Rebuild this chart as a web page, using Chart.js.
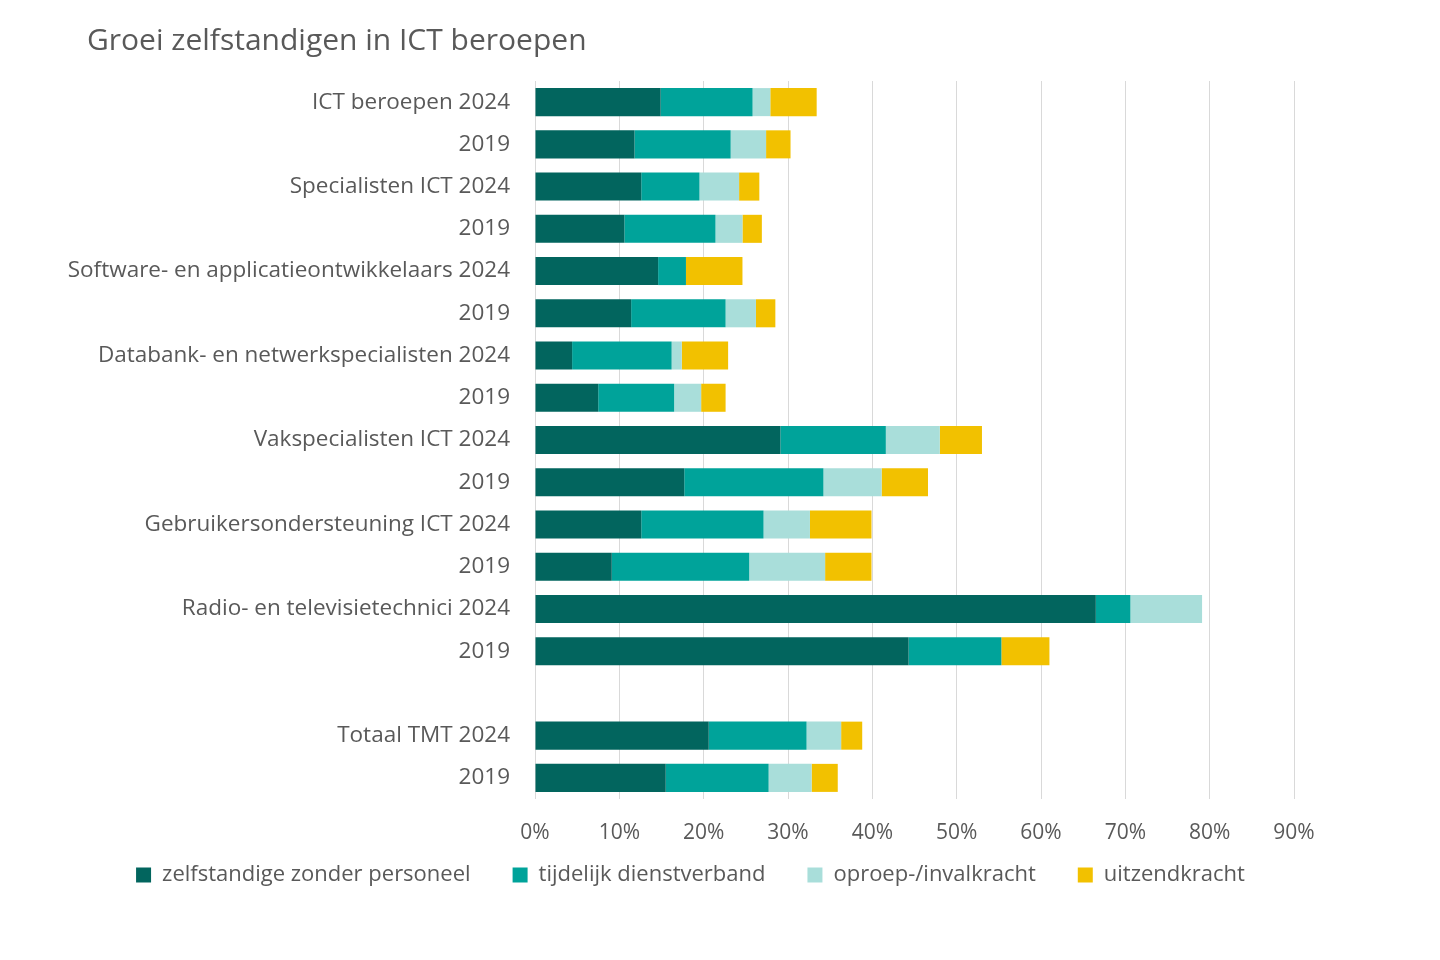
<!DOCTYPE html>
<html>
<head>
<meta charset="utf-8">
<script src="https://cdn.jsdelivr.net/npm/chart.js@4"></script>
<style>
  html, body { margin: 0; padding: 0; background: #fff; }
  #wrap { width: 1440px; height: 960px; }
</style>
</head>
<body>
<div id="wrap"><canvas id="barChart" width="1440" height="960"></canvas></div>
<script>
// categories (blank one gives the gap before the total)
var categories = [
    'ICT beroepen 2024', '2019',
    'Specialisten ICT 2024', '2019',
    'Software- en applicatieontwikkelaars 2024', '2019',
    'Databank- en netwerkspecialisten 2024', '2019',
    'Vakspecialisten ICT 2024', '2019',
    'Gebruikersondersteuning ICT 2024', '2019',
    'Radio- en televisietechnici 2024', '2019',
    '',
    'Totaal TMT 2024', '2019'
];

// percentages
var zzp       = [14.9, 11.8, 12.6, 10.6, 14.6, 11.4, 4.4, 7.5, 29.1, 17.7, 12.6, 9.1, 66.5, 44.3, null, 20.6, 15.5];
var tijdelijk = [10.9, 11.4, 6.9, 10.8, 3.3, 11.2, 11.8, 9.0, 12.5, 16.5, 14.5, 16.3, 4.1, 11.0, null, 11.6, 12.2];
var oproep    = [2.1, 4.2, 4.7, 3.2, 0, 3.6, 1.2, 3.2, 6.4, 6.9, 5.5, 9.0, 8.5, 0, null, 4.1, 5.1];
var uitzend   = [5.5, 2.9, 2.4, 2.3, 6.7, 2.3, 5.5, 2.9, 5.0, 5.5, 7.3, 5.5, 0, 5.7, null, 2.5, 3.1];

var seriesNames = ['zelfstandige zonder personeel', 'tijdelijk dienstverband', 'oproep-/invalkracht', 'uitzendkracht'];
var seriesColors = ['#02655E', '#00A39A', '#A9DEDA', '#F2C100'];
var tickMax = 90;

document.addEventListener("DOMContentLoaded", function() {
    createBarChart();
});

// labels may run outside the axis box, so don't clip them
function noLabelClip(scale) {
    scale._computeLabelArea = function() { return undefined; };
}

function createBarChart() {
    var ctx = document.getElementById('barChart').getContext('2d');
    var values = [zzp, tijdelijk, oproep, uitzend];
    var datasets = values.map(function(v, i) {
        return {
            label: seriesNames[i],
            data: v,
            backgroundColor: seriesColors[i],
            borderWidth: 0,
            categoryPercentage: 0.8,
            barPercentage: 0.83
        };
    });

    var textColor = '#595959';
    var myChart = new Chart(ctx, {
        type: 'bar',
        data: { labels: categories, datasets: datasets },
        options: {
            responsive: false,
            maintainAspectRatio: false,
            indexAxis: 'y',
            animation: false,
            layout: { padding: { left: 87, right: 146, top: 0, bottom: 64 } },
            plugins: {
                title: {
                    display: true,
                    text: 'Groei zelfstandigen in ICT beroepen',
                    align: 'start',
                    color: textColor,
                    font: { family: 'Open Sans', size: 30, weight: 'normal' },
                    padding: { top: 23, bottom: 22 }
                },
                legend: {
                    position: 'bottom',
                    labels: {
                        color: textColor,
                        font: { family: 'Open Sans', size: 22 },
                        boxWidth: 15,
                        boxHeight: 15,
                        padding: 42
                    }
                },
                tooltip: { enabled: false }
            },
            scales: {
                x: {
                    stacked: true,
                    min: 0,
                    max: tickMax,
                    ticks: {
                        stepSize: 10,
                        color: textColor,
                        font: { family: 'Open Sans', size: 21 },
                        padding: 21,
                        callback: function(v) { return v + '%'; }
                    },
                    grid: { color: '#d9d9d9', drawTicks: false },
                    border: { display: false },
                    // legend's own top padding sits under the tick labels
                    afterFit: function(scale) {
                        scale.height = 23;
                        noLabelClip(scale);
                    }
                },
                y: {
                    stacked: true,
                    ticks: {
                        color: textColor,
                        font: { family: 'Open Sans', size: 22.5 },
                        padding: 25,
                        autoSkip: false
                    },
                    grid: { display: false, drawTicks: false },
                    border: { display: false },
                    afterFit: function(scale) {
                        scale.width = 448;
                        noLabelClip(scale);
                    }
                }
            }
        }
    });
}
</script>
</body>
</html>
